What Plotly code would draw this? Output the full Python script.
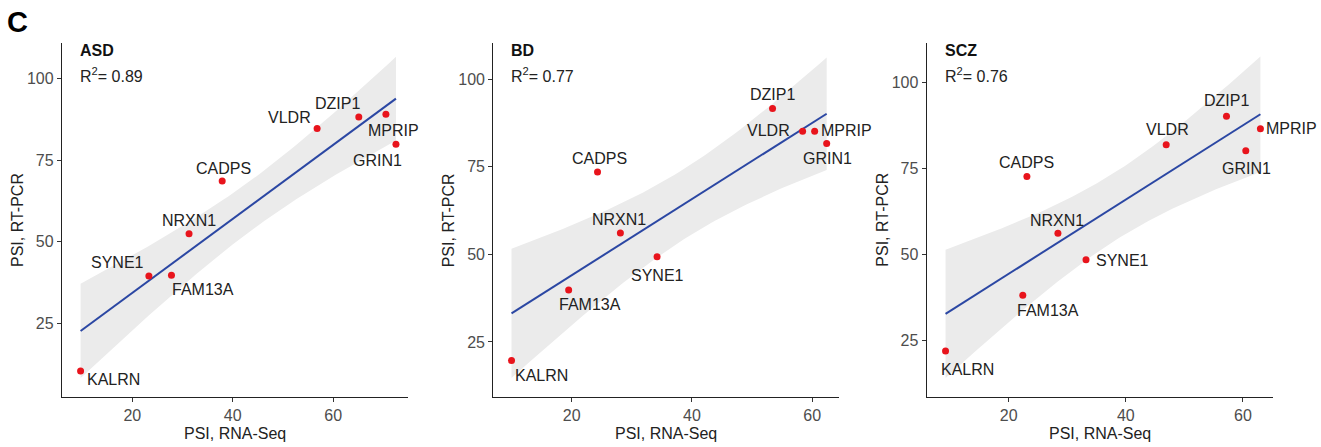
import numpy as np
import plotly.graph_objects as go

genes = ["KALRN", "SYNE1", "FAM13A", "NRXN1", "CADPS", "VLDR", "DZIP1", "MPRIP", "GRIN1"]

# PSI values (x = RNA-Seq, y = RT-PCR)
asd_x = [9.7, 23.3, 27.8, 31.3, 37.9, 56.8, 65.1, 70.5, 72.5]
asd_y = [10.4, 39.5, 39.7, 52.4, 68.6, 84.7, 88.2, 89.1, 79.9]
bd_x = [10.0, 34.2, 19.5, 28.1, 24.3, 58.4, 53.4, 60.4, 62.4]
bd_y = [19.7, 49.3, 39.8, 56.1, 73.5, 85.1, 91.6, 85.1, 81.6]
scz_x = [9.2, 33.2, 22.4, 28.4, 23.1, 46.9, 57.2, 63.0, 60.5]
scz_y = [22.0, 48.5, 38.2, 56.2, 72.7, 81.9, 90.2, 86.6, 80.2]

panel_names = ["ASD", "BD", "SCZ"]
r2_labels = ["0.89", "0.77", "0.76"]
x_ticks = [20, 40, 60]
y_ticks = [25, 50, 75, 100]

# label offsets in pixels (dx right, dy up) for each gene in each panel
label_offsets = [
    {"KALRN": (33, -9), "SYNE1": (-31, 13), "FAM13A": (32, -14), "NRXN1": (0, 13),
     "CADPS": (1, 13), "VLDR": (-28, 11), "DZIP1": (-21, 14), "MPRIP": (8, -16), "GRIN1": (-18, -16)},
    {"KALRN": (30, -15), "SYNE1": (0, -19), "FAM13A": (21, -14), "NRXN1": (-1, 13),
     "CADPS": (2, 13), "VLDR": (-34, 1), "DZIP1": (0, 14), "MPRIP": (32, 1), "GRIN1": (1, -15)},
    {"KALRN": (22, -19), "SYNE1": (36, -1), "FAM13A": (25, -15), "NRXN1": (-1, 13),
     "CADPS": (0, 14), "VLDR": (1, 15), "DZIP1": (0, 16), "MPRIP": (31, 0), "GRIN1": (1, -18)},
]

x_ranges = [[6.0, 74.9], [6.97, 64.5], [5.98, 65.2]]
y_ranges = [[2.4, 110.9], [9.3, 110.3], [8.6, 111.5]]

W, H = 1321, 447
x_dom_px = [(62, 408), (493.3, 839.3), (926.7, 1273.3)]
y_dom_px = (43, 397)

T_975_DF7 = 2.364624  # Student t quantile, 95% CI, df = n - 2 = 7

FONT = "Liberation Sans, Arial, sans-serif"
RED = "#e8141c"
BLUE = "#2b47a3"
BAND = "#ebebeb"

fig = go.Figure()
annotations = []
datasets = [(asd_x, asd_y), (bd_x, bd_y), (scz_x, scz_y)]

for i, (xs, ys) in enumerate(datasets):
    xs = np.array(xs, dtype=float)
    ys = np.array(ys, dtype=float)
    n = len(xs)
    xa = "x" if i == 0 else f"x{i+1}"
    ya = "y" if i == 0 else f"y{i+1}"

    # linear fit with 95% confidence band (like ggplot geom_smooth(method="lm"))
    slope, intercept = np.polyfit(xs, ys, 1)
    xm = xs.mean()
    sxx = ((xs - xm) ** 2).sum()
    resid = ys - (slope * xs + intercept)
    s = np.sqrt((resid ** 2).sum() / (n - 2))
    grid = np.linspace(xs.min(), xs.max(), 80)
    fit = slope * grid + intercept
    se = s * np.sqrt(1.0 / n + (grid - xm) ** 2 / sxx)
    lo = fit - T_975_DF7 * se
    hi = fit + T_975_DF7 * se

    fig.add_trace(go.Scatter(
        x=np.concatenate([grid, grid[::-1]]), y=np.concatenate([hi, lo[::-1]]),
        fill="toself", fillcolor=BAND, line=dict(width=0), mode="lines",
        hoverinfo="skip", showlegend=False, xaxis=xa, yaxis=ya))
    fig.add_trace(go.Scatter(
        x=grid, y=fit, mode="lines", line=dict(color=BLUE, width=2),
        showlegend=False, xaxis=xa, yaxis=ya))
    fig.add_trace(go.Scatter(
        x=xs, y=ys, mode="markers", marker=dict(color=RED, size=7),
        text=genes, showlegend=False, xaxis=xa, yaxis=ya))

    for g, xv, yv in zip(genes, xs, ys):
        dx, dy = label_offsets[i][g]
        annotations.append(dict(
            x=xv, y=yv, xref=xa, yref=ya, text=g, showarrow=False,
            xshift=dx, yshift=dy, font=dict(family=FONT, size=16, color="#222222")))

    x0, x1 = x_dom_px[i]
    axis_common = dict(
        showgrid=False, zeroline=False, showline=True, linecolor="#222222", linewidth=1.3,
        ticks="outside", ticklen=4, tickcolor="#333333", tickwidth=1.2,
        tickfont=dict(family=FONT, size=16, color="#4d4d4d"), mirror=False)
    fig.update_layout(**{
        ("xaxis" if i == 0 else f"xaxis{i+1}"): dict(
            domain=[x0 / W, x1 / W], range=x_ranges[i], tickvals=x_ticks,
            anchor=ya, **axis_common),
        ("yaxis" if i == 0 else f"yaxis{i+1}"): dict(
            domain=[1 - y_dom_px[1] / H, 1 - y_dom_px[0] / H], range=y_ranges[i],
            tickvals=y_ticks, anchor=xa, **axis_common),
    })

    # panel title and R2
    annotations.append(dict(
        x=(x0 + 16) / W, y=1 - 51 / H, xref="paper", yref="paper", xanchor="left",
        yanchor="middle", text=f"<b>{panel_names[i]}</b>", showarrow=False,
        font=dict(family=FONT, size=16, color="#111111")))
    annotations.append(dict(
        x=(x0 + 16) / W, y=1 - 75 / H, xref="paper", yref="paper", xanchor="left",
        yanchor="middle", text=f"R<sup>2</sup>= {r2_labels[i]}", showarrow=False,
        font=dict(family=FONT, size=16, color="#222222")))
    # axis titles
    annotations.append(dict(
        x=(x0 + x1) / 2 / W, y=1 - 433 / H, xref="paper", yref="paper",
        xanchor="center", yanchor="middle", text="PSI, RNA-Seq", showarrow=False,
        font=dict(family=FONT, size=16, color="#222222")))
    annotations.append(dict(
        x=(x0 - 45) / W, y=1 - 220 / H, xref="paper", yref="paper",
        xanchor="center", yanchor="middle", text="PSI, RT-PCR", showarrow=False,
        textangle=-90, font=dict(family=FONT, size=16, color="#222222")))

annotations.append(dict(
    x=17 / W, y=1 - 22 / H, xref="paper", yref="paper", xanchor="center",
    yanchor="middle", text="<b>C</b>", showarrow=False,
    font=dict(family=FONT, size=29, color="#000000")))

fig.update_layout(
    width=W, height=H, margin=dict(l=0, r=0, t=0, b=0),
    paper_bgcolor="white", plot_bgcolor="white",
    annotations=annotations, showlegend=False)

fig.write_html("out.html")
